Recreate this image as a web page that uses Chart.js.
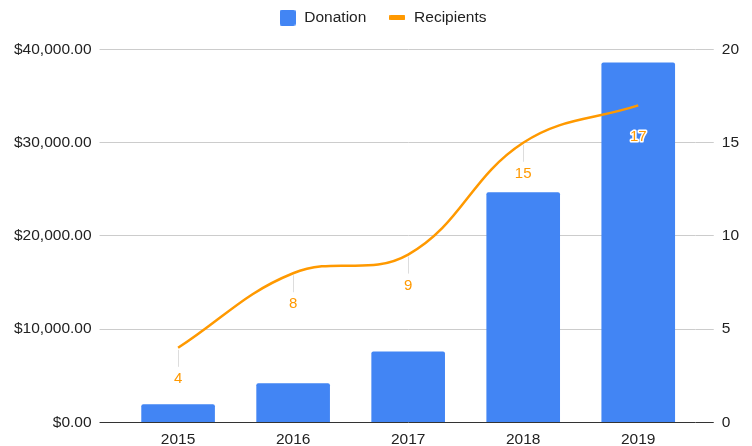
<!DOCTYPE html>
<html>
<head>
<meta charset="utf-8">
<script src="https://cdn.jsdelivr.net/npm/chart.js@4/dist/chart.umd.min.js"></script>
<style>
  html, body { margin: 0; padding: 0; background: #fff; }
  #wrap { width: 752px; height: 446px; position: relative; }
</style>
</head>
<body>
<div id="wrap"><canvas id="chart"></canvas></div>
<script>
const years = ["2015", "2016", "2017", "2018", "2019"];
const donation = [1950, 4200, 7600, 24700, 38600];
const recipients = [4, 8, 9, 15, 17];
const moneyTicks = [0, 10000, 20000, 30000, 40000];
const countTicks = [0, 5, 10, 15, 20];

const BLUE = "#4285F4";
const ORANGE = "#FF9900";
const FONT = "'Liberation Sans', Arial, sans-serif";
const FS = 15.5;

// small legend icons
function makeIcon(w, h, color, r) {
    const c = document.createElement("canvas");
    c.width = w; c.height = h;
    const g = c.getContext("2d");
    g.fillStyle = color;
    g.beginPath();
    g.roundRect(0, 0, w, h, r);
    g.fill();
    return c;
}
const barIcon = makeIcon(16, 16, BLUE, 2);
const lineIcon = makeIcon(16, 5, ORANGE, 1);

function money(v) {
    return "$" + v.toLocaleString("en-US", { minimumFractionDigits: 2, maximumFractionDigits: 2 });
}

function gridColor(c) {
    return c.tick && c.tick.value === 0 ? "#333" : "#cccccc";
}

// leader lines go under the bars, the numbers on top of everything
const lineLabels = {
    id: "lineLabels",
    beforeDatasetsDraw(chart) {
        const meta = chart.getDatasetMeta(1);
        const ctx = chart.ctx;
        ctx.save();
        ctx.strokeStyle = "#dddddd";
        ctx.lineWidth = 1;
        meta.data.forEach(function(pt) {
            const x = Math.round(pt.x) + 0.5;
            ctx.beginPath();
            ctx.moveTo(x, pt.y + 2);
            ctx.lineTo(x, pt.y + 19);
            ctx.stroke();
        });
        ctx.restore();
    },
    afterDatasetsDraw(chart) {
        const meta = chart.getDatasetMeta(1);
        const ctx = chart.ctx;
        ctx.save();
        ctx.font = "15px " + FONT;
        ctx.textAlign = "center";
        ctx.textBaseline = "middle";
        ctx.lineJoin = "round";
        meta.data.forEach(function(pt, i) {
            const txt = String(recipients[i]);
            ctx.strokeStyle = "#ffffff";
            ctx.lineWidth = 3;
            ctx.strokeText(txt, pt.x, pt.y + 31);
            ctx.fillStyle = ORANGE;
            ctx.fillText(txt, pt.x, pt.y + 31);
        });
        ctx.restore();
    }
};

// extra room under the legend, and nudge it a bit right like the original
const legendGap = {
    id: "legendGap",
    beforeInit(chart) {
        const fit = chart.legend.fit;
        chart.legend.fit = function() {
            fit.bind(chart.legend)();
            this.height += 14;
        };
    },
    afterLayout(chart) {
        chart.legend.left += 6;
        chart.legend.right += 6;
    }
};

new Chart(document.getElementById("chart"), {
    type: "bar",
    data: {
        labels: years,
        datasets: [{
            type: "bar",
            label: "Donation",
            data: donation,
            backgroundColor: BLUE,
            borderRadius: 2,
            borderSkipped: "bottom",
            barPercentage: 0.64,
            categoryPercentage: 1,
            yAxisID: "y",
            order: 2,
            pointStyle: barIcon
        }, {
            type: "line",
            label: "Recipients",
            data: recipients,
            borderColor: ORANGE,
            backgroundColor: ORANGE,
            borderWidth: 2.5,
            tension: 0.4,
            pointRadius: 0,
            yAxisID: "y1",
            order: 1,
            pointStyle: lineIcon
        }]
    },
    options: {
        responsive: true,
        maintainAspectRatio: false,
        animation: false,
        layout: { padding: { left: 6, right: 5, top: -12, bottom: -3 } },
        plugins: {
            tooltip: { enabled: false },
            legend: {
                position: "top",
                labels: {
                    usePointStyle: true,
                    pointStyleWidth: 18,
                    font: { family: FONT, size: FS },
                    color: "#222",
                    padding: 22,
                    sort: function(a, b) { return a.datasetIndex - b.datasetIndex; }
                }
            }
        },
        scales: {
            x: {
                grid: { display: false },
                border: { display: false },
                ticks: { color: "#222", font: { family: FONT, size: FS }, padding: 0 }
            },
            y: {
                position: "left",
                min: 0,
                max: 40000,
                afterBuildTicks: function(axis) { axis.ticks = moneyTicks.map(function(v) { return { value: v }; }); },
                border: { display: false },
                grid: { color: gridColor, tickLength: 21 },
                ticks: {
                    color: "#222",
                    font: { family: FONT, size: FS },
                    padding: 8,
                    callback: function(v) { return money(v); }
                }
            },
            y1: {
                position: "right",
                min: 0,
                max: 20,
                afterBuildTicks: function(axis) { axis.ticks = countTicks.map(function(v) { return { value: v }; }); },
                border: { display: false },
                grid: { drawOnChartArea: false, color: gridColor, tickLength: 18 },
                ticks: { color: "#222", font: { family: FONT, size: FS }, padding: 8 }
            }
        }
    },
    plugins: [lineLabels, legendGap]
});
</script>
</body>
</html>
